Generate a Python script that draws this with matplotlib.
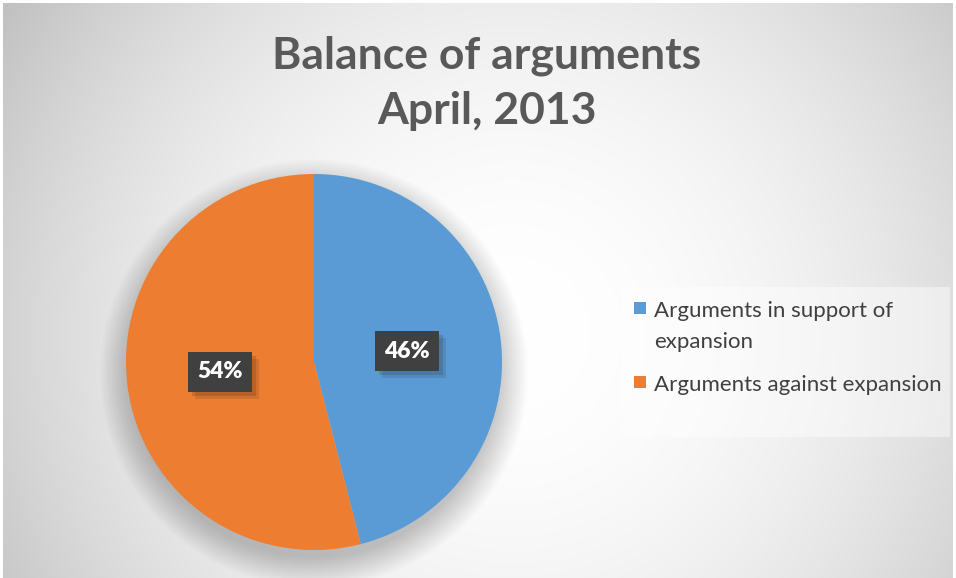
import numpy as np
import matplotlib
matplotlib.use("Agg")
import matplotlib.pyplot as plt
from matplotlib.patches import Rectangle, Circle
import matplotlib.patheffects as pe

plt.rcParams['font.family'] = ['Lato', 'DejaVu Sans']

title = "Balance of arguments\nApril, 2013"
labels = ["Arguments in support of\nexpansion", "Arguments against expansion"]
values = [46, 54]
colors = ["#5B9BD5", "#ED7D31"]

W, H = 956, 578
fig = plt.figure(figsize=(W / 100, H / 100), dpi=100)

# background (chart area with radial gradient)
bg = fig.add_axes([3 / W, 0, 950 / W, 575 / H])
yy, xx = np.mgrid[0:575, 0:950]
cx, cy = 510, 330
d = np.sqrt((xx - cx) ** 2 + (yy - cy) ** 2) / 594.0
g = 1.0 - (60 / 255.0) * np.clip(d, 0, 1.2) ** 2
bg.imshow(np.dstack([g, g, g]), aspect='auto', extent=[0, 1, 0, 1], origin='upper')
bg.set_xlim(0, 1); bg.set_ylim(0, 1)
bg.axis('off')

# pie
R = 188
pcx, pcy = 314, 362
ax = fig.add_axes([(pcx - R) / W, (H - pcy - R) / H, 2 * R / W, 2 * R / H])
# soft shadow
for i in range(14):
    ax.add_patch(Circle((0.0, -0.06), 0.98 + 0.012 * i, color='black', alpha=0.016, lw=0,
                        zorder=0, clip_on=False))
wedges, _ = ax.pie(values, colors=colors, startangle=90, counterclock=False,
                   wedgeprops=dict(linewidth=0))
for w in wedges:
    w.set_zorder(2)
ax.set_xlim(-1, 1); ax.set_ylim(-1, 1)
ax.set_aspect('equal')
ax.axis('off')

# data labels
label_pos = [(407, 351), (220, 372)]
for v, (x, y) in zip(values, label_pos):
    t = fig.text(x / W, 1 - y / H, f"{v}%", ha='center', va='center', fontsize=16.5,
                 fontweight='heavy', color='white',
                 bbox=dict(boxstyle='square,pad=0.4', fc='#404040', ec='none'))
    t.get_bbox_patch().set_path_effects([
        pe.SimplePatchShadow(offset=(5, -5), alpha=0.12),
        pe.SimplePatchShadow(offset=(3, -3), alpha=0.15),
        pe.Normal()])

# title
fig.text(487 / W, 1 - 83 / H, title, ha='center', va='center', fontsize=32,
         fontweight='bold', color='#595959', linespacing=1.45)

# legend box
fig.patches.append(Rectangle((622 / W, 1 - 437 / H), 328 / W, 150 / H, transform=fig.transFigure,
                             fc='white', alpha=0.45, ec='none'))
# legend entries (square aligned with first line of each label)
line_h = 31
entry_gap = 12
top = 301
for lab, col in zip(labels, colors):
    fig.patches.append(Rectangle((634 / W, 1 - (top + 13) / H), 12 / W, 12 / H,
                                 transform=fig.transFigure, fc=col, ec='none'))
    fig.text(654 / W, 1 - top / H, lab, ha='left', va='top', fontsize=16,
             color='#404040', linespacing=1.68)
    top += line_h * (lab.count("\n") + 1) + entry_gap

fig.savefig("out.png", dpi=100)
